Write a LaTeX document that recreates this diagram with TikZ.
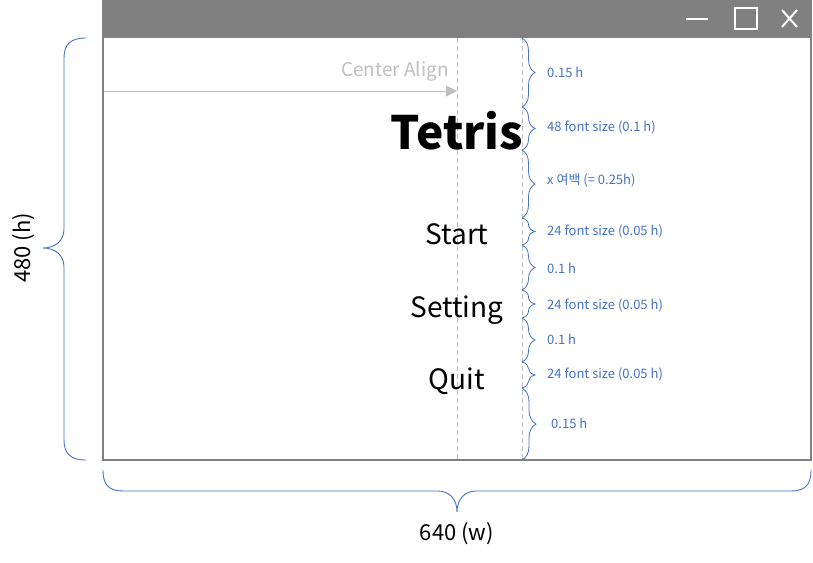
\documentclass[tikz,border=0pt]{standalone}
\usepackage{fontspec}
\setmainfont{Noto Sans CJK KR}
\usetikzlibrary{decorations.pathreplacing,arrows.meta}
\definecolor{bar}{HTML}{808080}
\definecolor{guide}{HTML}{BFBFBF}
\definecolor{brc}{HTML}{4472C4}
\tikzset{
  rbrace/.style={draw=brc, line width=0.8pt, decorate, decoration={brace, amplitude=#1}},
  rbrace/.default=13pt,
  bigbrace/.style={draw=brc, line width=0.9pt},
  blab/.style={text=brc, font=\fontsize{13}{15}\selectfont, anchor=west, inner sep=0pt},
  menu/.style={font=\fontsize{28}{30}\selectfont, anchor=base, inner sep=0pt},
  guideline/.style={draw=guide, line width=0.8pt, dash pattern=on 5pt off 3pt},
}
\begin{document}
\begin{tikzpicture}[x=1pt,y=-1pt]
\useasboundingbox (0,0) rectangle (813,562);
% window
\fill[bar] (102,0) rectangle (812,37);
\draw[bar, line width=2pt] (103,37) rectangle (811,460);
\node (win) at (457,248) [minimum width=708pt, minimum height=423pt, inner sep=0pt] {};
% title icons
\draw[white, line width=2pt] (686,19) -- (708,19);
\draw[white, line width=2pt] (735,8) rectangle (757,29);
\draw[white, line width=2pt] (782,10) -- (797,27) (797,10) -- (782,27);
% guides
\coordinate (c1) at (457,38); \coordinate (c2) at (457,459);
\coordinate (r1) at (522,38); \coordinate (r2) at (522,459);
\draw[guideline] (c1) -- (c2);
\draw[guideline] (r1) -- (r2);
% center align arrow
\coordinate (a1) at (104,91); \coordinate (a2) at (457,91);
\draw[guide, line width=1pt, -{Triangle[length=11pt,width=11pt]}] (a1) -- (a2);
\node[text=guide, font=\fontsize{19}{21}\selectfont, anchor=east, inner sep=0pt] (ca) at (449,71) {Center Align};
% texts
\node[font=\fontsize{46}{48}\bfseries\selectfont, anchor=base, inner sep=0pt] (tetris) at (457,149) {Tetris};
\node[menu] (start) at (457,244) {Start};
\node[menu] (setting) at (457,317) {Setting};
\node[menu] (quit) at (457,389) {Quit};
% right braces
\coordinate (b0) at (522,38);
\coordinate (b1) at (522,107);
\coordinate (b2) at (522,150);
\coordinate (b3) at (522,218);
\coordinate (b4) at (522,245);
\coordinate (b5) at (522,290);
\coordinate (b6) at (522,318);
\coordinate (b7) at (522,362);
\coordinate (b8) at (522,388);
\coordinate (b9) at (522,460);
\draw[rbrace] (b0) -- (b1);
\draw[rbrace] (b1) -- (b2);
\draw[rbrace] (b2) -- (b3);
\draw[rbrace] (b3) -- (b4);
\draw[rbrace] (b4) -- (b5);
\draw[rbrace] (b5) -- (b6);
\draw[rbrace] (b6) -- (b7);
\draw[rbrace] (b7) -- (b8);
\draw[rbrace=14pt] (b8) -- (b9);
\node[blab] (l1) at (547,72) {0.15 h};
\node[blab] (l2) at (547,127) {48 font size (0.1 h)};
\node[blab] (l3) at (547,180) {x 여백 (= 0.25h)};
\node[blab] (l4) at (547,231) {24 font size (0.05 h)};
\node[blab] (l5) at (547,268) {0.1 h};
\node[blab] (l6) at (547,305) {24 font size (0.05 h)};
\node[blab] (l7) at (547,339) {0.1 h};
\node[blab] (l8) at (547,374) {24 font size (0.05 h)};
\node[blab] (l9) at (551,423) {0.15 h};
% left brace
\coordinate (h1) at (86,38); \coordinate (h2) at (86,460); \coordinate (ht) at (43,248);
\draw[bigbrace] (h1) .. controls (71,38) and (64,44) .. (64,58) -- (64,229)
  .. controls (64,241) and (55,248) .. (ht) .. controls (55,248) and (64,255) .. (64,267)
  -- (64,440) .. controls (64,454) and (71,460) .. (h2);
\node[font=\fontsize{22}{24}\selectfont, rotate=90, inner sep=0pt] (hl) at (24,248) {480 (h)};
% bottom brace
\coordinate (w1) at (103,470); \coordinate (w2) at (811,470); \coordinate (wt) at (457,512);
\draw[bigbrace] (w1) .. controls (103,485) and (109,491) .. (123,491) -- (438,491)
  .. controls (450,491) and (457,500) .. (wt) .. controls (457,500) and (464,491) .. (476,491)
  -- (791,491) .. controls (805,491) and (811,485) .. (w2);
\node[font=\fontsize{22}{24}\selectfont, inner sep=0pt] (wl) at (457,534) {640 (w)};
\end{tikzpicture}
\end{document}
